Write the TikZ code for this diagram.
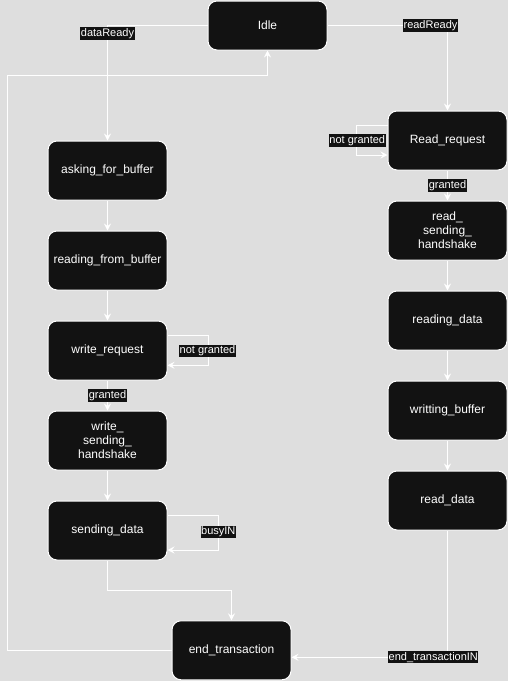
\documentclass[tikz,border=0pt]{standalone}
\usepackage{fontspec}
\setmainfont{Liberation Sans}
\usetikzlibrary{arrows.meta}
\definecolor{bg}{HTML}{DEDEDE}
\definecolor{nodefill}{HTML}{121212}
\begin{document}
\begin{tikzpicture}[x=1pt,y=-1pt,
  state/.style={draw=white, line width=1pt, fill=nodefill, rounded corners=9pt,
    minimum width=119pt, minimum height=59pt, text=white,
    font=\fontsize{12}{14}\selectfont, align=center, inner sep=0pt},
  lbl/.style={fill=nodefill, text=white, font=\fontsize{11}{13}\selectfont,
    inner xsep=0.5pt, inner ysep=0.8pt, text height=8pt, text depth=2.5pt},
  conn/.style={draw=white, line width=1pt, -{Stealth[length=7pt,width=7pt,inset=2.5pt]}}]
\fill[bg] (0,0) rectangle (508,681);
\useasboundingbox (0,0) rectangle (508,681);

\node[state, minimum height=49pt] (idle) at (267.5,25.5) {Idle};
\node[state] (ask) at (107.5,170.5) {asking\_for\_buffer};
\node[state] (rfb) at (107.5,260.5) {reading\_from\_buffer};
\node[state] (wreq) at (107.5,350.5) {write\_request};
\node[state] (wsh) at (107.5,440.5) {write\_\\sending\_\\handshake};
\node[state] (sd) at (107.5,530.5) {sending\_data};
\node[state] (et) at (231.5,650.3) {end\_transaction};
\node[state] (rreq) at (447.5,140.5) {Read\_request};
\node[state] (rsh) at (447.5,230.5) {read\_\\sending\_\\handshake};
\node[state] (rd) at (447.5,320.5) {reading\_data};
\node[state] (wb) at (447.5,410.5) {writting\_buffer};
\node[state] (rdd) at (447.5,500.5) {read\_data};

\coordinate (cl) at (7.5,75.3);

\draw[conn] (idle.west) -| (ask.north);
\draw[conn] (idle.east) -| (rreq.north);
\draw[conn] ([yshift=15.5pt]rreq.west) -- ++(-31,0) |- ([yshift=-14.5pt]rreq.west);
\draw[conn] (rreq) -- (rsh);
\draw[conn] (rsh) -- (rd);
\draw[conn] (rd) -- (wb);
\draw[conn] (wb) -- (rdd);
\draw[conn] (rdd.south) |- ([yshift=-7pt]et.east);

\draw[conn] (ask) -- (rfb);
\draw[conn] (rfb) -- (wreq);
\draw[conn] ([yshift=15.5pt]wreq.east) -- ++(40.7,0) |- ([yshift=-14.8pt]wreq.east);
\draw[conn] (wreq) -- (wsh);
\draw[conn] (wsh) -- (sd);
\draw[conn] ([yshift=15.2pt]sd.east) -- ++(51,0) |- ([yshift=-19.5pt]sd.east);
\draw[conn] (sd.south) -- ++(0,30) -| (et.north);
\draw[conn] (et.west) -| (cl) -| (idle.south);

\node[lbl] (l1) at (107.5,33.5) {dataReady};
\node[lbl] (l2) at (430.5,25.5) {readReady};
\node[lbl] (l3) at (357.3,140.5) {not granted};
\node[lbl] (l4) at (447.5,185.5) {granted};
\node[lbl] (l5) at (433.3,657.3) {end\_transactionIN};
\node[lbl] (l6) at (207.5,350.7) {not granted};
\node[lbl] (l7) at (107.5,395.5) {granted};
\node[lbl] (l8) at (218.3,531.7) {busyIN};
\end{tikzpicture}
\end{document}
